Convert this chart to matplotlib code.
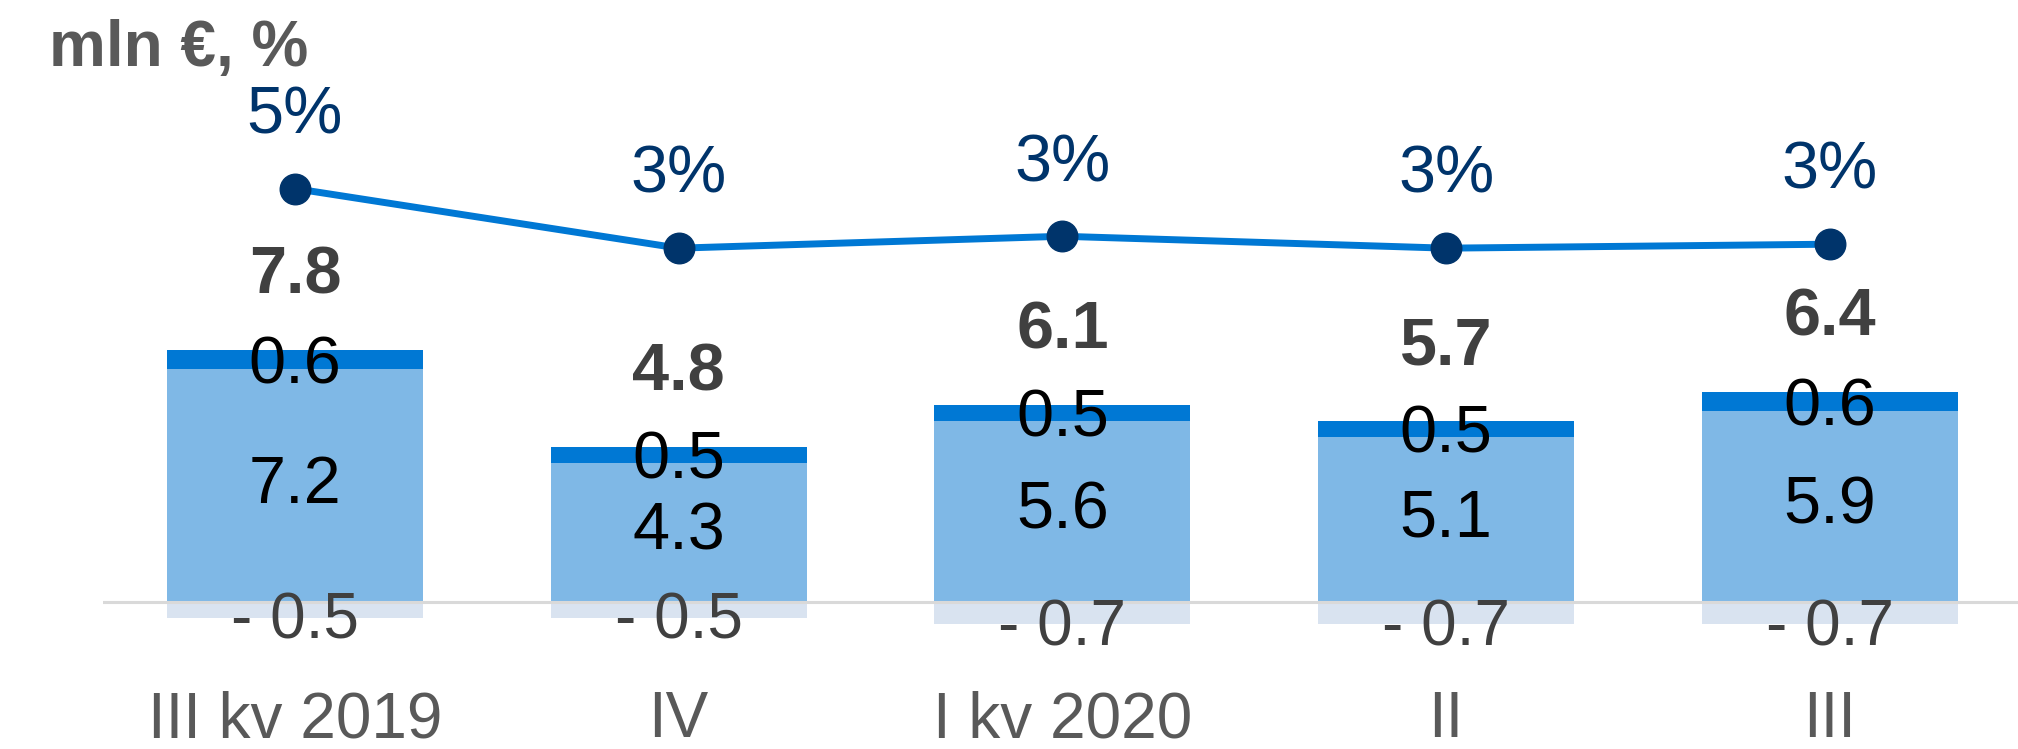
import matplotlib
matplotlib.use("Agg")
import matplotlib.pyplot as plt
import numpy as np

plt.rcParams['font.family'] = ['Liberation Sans', 'DejaVu Sans']

categories = ["III kv 2019", "IV", "I kv 2020", "II", "III"]
base_vals = [7.2, 4.3, 5.6, 5.1, 5.9]
top_vals = [0.6, 0.5, 0.5, 0.5, 0.6]
neg_vals = [-0.5, -0.5, -0.7, -0.7, -0.7]
totals = [7.8, 4.8, 6.1, 5.7, 6.4]
pct_vals = [4.6, 3.1, 3.4, 3.1, 3.2]
unit_label = "mln €, %"

W, H = 2018, 749
fig = plt.figure(figsize=(W / 100, H / 100), dpi=100)
left = 103 / W
bottom = 99 / H
ax = fig.add_axes([left, bottom, 1 - left, 1 - bottom])

x = np.arange(len(categories))
bw = 0.667
c_base = "#7FB8E6"
c_top = "#0078D4"
c_neg = "#D9E3F0"

ax.bar(x, base_vals, width=bw, color=c_base, zorder=2)
ax.bar(x, top_vals, width=bw, bottom=base_vals, color=c_top, zorder=2)
ax.bar(x, neg_vals, width=bw, color=c_neg, zorder=2)
ax.axhline(0, color="#D9D9D9", lw=2.2, zorder=3)

ax.set_xlim(-0.5, 4.49)
ax.set_ylim(-1.49, 18.64)
for s in ax.spines.values():
    s.set_visible(False)
ax.set_yticks([])
ax.set_xticks(x)
ax.set_xticklabels(categories, fontsize=46, color="#595959")
ax.tick_params(axis="x", length=0, pad=29)

fs = 48
for i in range(len(x)):
    ax.text(x[i], base_vals[i] / 2, f"{base_vals[i]:.1f}", ha="center", va="center",
            fontsize=fs, color="black", zorder=5)
    ax.text(x[i], base_vals[i] + top_vals[i] / 2 - 0.2, f"{top_vals[i]:.1f}", ha="center",
            va="center", fontsize=fs, color="black", zorder=5)
    ax.text(x[i], neg_vals[i] - 0.12, f"- {abs(neg_vals[i]):.1f}", ha="center", va="center",
            fontsize=46, color="#404040", zorder=5)
    ax.annotate(f"{totals[i]:.1f}", (x[i], base_vals[i] + top_vals[i]), xytext=(0, 53),
                textcoords="offset points", ha="center", va="center", fontsize=fs,
                fontweight="bold", color="#404040", zorder=5)

ax2 = ax.twinx()
ax2.set_ylim(-7.02, 9.35)
ax2.set_yticks([])
for s in ax2.spines.values():
    s.set_visible(False)
ax2.plot(x, pct_vals, color="#0078D4", lw=5, zorder=4)
ax2.plot(x, pct_vals, "o", color="#00346B", markersize=22, zorder=5)
for i in range(len(x)):
    ax2.annotate(f"{pct_vals[i]:.0f}%", (x[i], pct_vals[i]), xytext=(0, 52),
                 textcoords="offset points", ha="center", va="center", fontsize=48,
                 color="#00346B")

fig.text(49 / W, 1 - 49 / H, unit_label, ha="left", va="center", fontsize=46,
         fontweight="bold", color="#595959")

fig.savefig("out.png", dpi=100)
